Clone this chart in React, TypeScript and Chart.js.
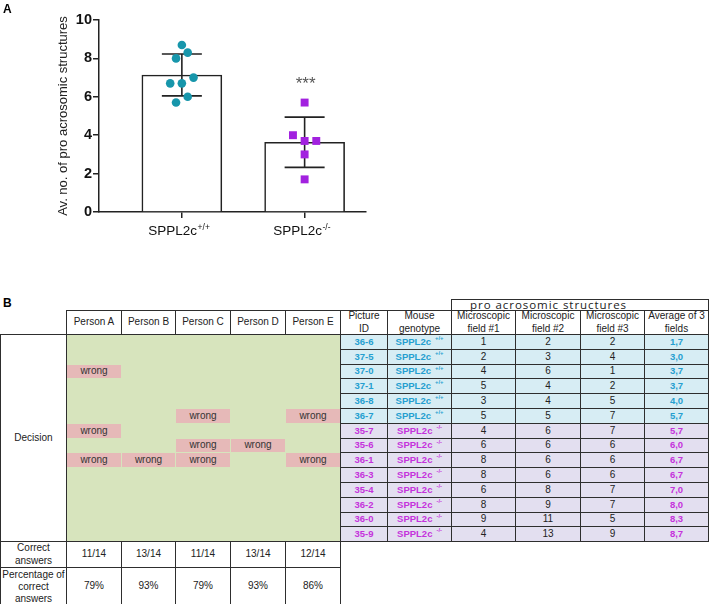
import React, { useEffect, useRef } from 'react';
import { Chart, registerables } from 'chart.js';

Chart.register(...registerables);

const FONT = "'Liberation Sans', Arial, Helvetica, sans-serif";

// ---------- Panel A data ----------
const groupNames = ['SPPL2c', 'SPPL2c'];
const groupSups = ['+/+', '-/-'];
const wtValues = [8.7, 8.3, 8.0, 7.0, 6.7, 6.7, 6.0, 5.7];
const koValues = [5.7, 4.0, 3.7, 3.7, 3.0, 1.7];
const wtJitter = [0, 0.5, -0.5, 1, -1, 0, 0.5, -0.5];
const koJitter = [0, -1, 0, 1, 0, 0];
const yTicks = [0, 2, 4, 6, 8, 10];
const yTitle = 'Av. no. of pro acrosomic structures';
const significance = '***';

// ---------- Panel B data ----------
const persons = ['Person A', 'Person B', 'Person C', 'Person D', 'Person E'];
const pictureIds = ['36-6', '37-5', '37-0', '37-1', '36-8', '36-7', '35-7', '35-6', '36-1', '36-3', '35-4', '36-2', '36-0', '35-9'];
const genotypes = ['+/+', '+/+', '+/+', '+/+', '+/+', '+/+', '-/-', '-/-', '-/-', '-/-', '-/-', '-/-', '-/-', '-/-'];
const field1 = [1, 2, 4, 5, 3, 5, 4, 6, 8, 8, 6, 8, 9, 4];
const field2 = [2, 3, 6, 4, 4, 5, 6, 6, 6, 6, 8, 9, 11, 13];
const field3 = [2, 4, 1, 2, 5, 7, 7, 6, 6, 6, 7, 7, 5, 9];
const averages = ['1,7', '3,0', '3,7', '3,7', '4,0', '5,7', '5,7', '6,0', '6,7', '6,7', '7,0', '8,0', '8,3', '8,7'];
const wrongRows = [[2, 6, 8], [8], [5, 7, 8], [7], [5, 8]];
const correctAnswers = ['11/14', '13/14', '11/14', '13/14', '12/14'];
const percentCorrect = ['79%', '93%', '79%', '93%', '86%'];
const rightHeaders = [['Picture', 'ID'], ['Mouse', 'genotype'], ['Microscopic', 'field #1'], ['Microscopic', 'field #2'], ['Microscopic', 'field #3'], ['Average of 3', 'fields']];
const groupHeader = 'pro acrosomic structures';

// ---------- styling ----------
const TEAL_DOT = '#1796ab';
const PURPLE_SQ = '#a221df';
const TEAL_TXT = '#259fd0';
const MAG_TXT = '#c532dc';
const BLUE_BG = '#d7edf4';
const LAV_BG = '#e3dff0';
const GREEN_BG = '#d7e4bd';
const PINK_BG = '#e6b9b8';
const BORDER = '#2e2e2e';

const mean = (a: number[]) => a.reduce((s, v) => s + v, 0) / a.length;
const sd = (a: number[]) => {
  const m = mean(a);
  return Math.sqrt(a.reduce((s, v) => s + (v - m) * (v - m), 0) / (a.length - 1));
};

const groupsValues = [wtValues, koValues];
const JITTER_UNIT = 0.095;

const errorBarPlugin = {
  id: 'errorBars',
  afterDatasetDraw(chart: any, args: any) {
    if (args.index !== 2) return;
    const { ctx, scales } = chart;
    const x = scales.x;
    const y = scales.y;
    ctx.save();
    ctx.strokeStyle = '#222';
    ctx.lineWidth = 1.6;
    groupsValues.forEach((vals, i) => {
      const m = mean(vals);
      const s = sd(vals);
      const cx = x.getPixelForValue(i + 1);
      const top = y.getPixelForValue(m + s);
      const bot = y.getPixelForValue(m - s);
      const half = 20;
      ctx.beginPath();
      ctx.moveTo(cx, top);
      ctx.lineTo(cx, bot);
      ctx.moveTo(cx - half, top);
      ctx.lineTo(cx + half, top);
      ctx.moveTo(cx - half, bot);
      ctx.lineTo(cx + half, bot);
      ctx.stroke();
    });
    ctx.restore();
  },
};

const labelPlugin = {
  id: 'groupLabels',
  afterDraw(chart: any) {
    const { ctx, scales } = chart;
    const x = scales.x;
    const y = scales.y;
    ctx.save();
    ctx.textAlign = 'left';
    ctx.textBaseline = 'alphabetic';
    ctx.fillStyle = '#111';
    groupNames.forEach((name, i) => {
      const cx = x.getPixelForValue(i + 1);
      ctx.font = `13.5px ${FONT}`;
      const w1 = ctx.measureText(name).width;
      ctx.font = `8.5px ${FONT}`;
      const w2 = ctx.measureText(groupSups[i]).width;
      const start = cx - (w1 + w2) / 2 - 3;
      const base = y.getPixelForValue(0) + 23;
      ctx.font = `13.5px ${FONT}`;
      ctx.fillText(name, start, base);
      ctx.font = `8.5px ${FONT}`;
      ctx.fillText(groupSups[i], start + w1 + 0.5, base - 5);
    });
    const sx = x.getPixelForValue(2);
    const sy = y.getPixelForValue(Math.max(...koValues)) - 13.5;
    ctx.font = `17px ${FONT}`;
    ctx.fillStyle = '#555';
    ctx.textAlign = 'center';
    ctx.fillText(significance, sx + 1, sy);
    ctx.restore();
  },
};

function ChartA() {
  const ref = useRef<HTMLCanvasElement | null>(null);
  useEffect(() => {
    if (!ref.current) return;
    const axisColor = '#222';
    const chart = new Chart(ref.current, {
      type: 'bar',
      data: {
        datasets: [
          {
            type: 'scatter',
            data: wtValues.map((v, i) => ({ x: 1 + wtJitter[i] * JITTER_UNIT, y: v })),
            pointStyle: 'circle',
            pointRadius: 4.3,
            pointBackgroundColor: TEAL_DOT,
            pointBorderWidth: 0,
            order: 0,
          } as any,
          {
            type: 'scatter',
            data: koValues.map((v, i) => ({ x: 2 + koJitter[i] * JITTER_UNIT, y: v })),
            pointStyle: 'rect',
            pointRadius: 5.6,
            pointBackgroundColor: PURPLE_SQ,
            pointBorderWidth: 0,
            order: 0,
          } as any,
          {
            type: 'bar',
            data: groupsValues.map((vals, i) => ({ x: i + 1, y: mean(vals) })),
            backgroundColor: '#ffffff',
            borderColor: '#222',
            borderWidth: 1.6,
            barThickness: 80,
            order: 2,
          } as any,
        ],
      },
      options: {
        responsive: false,
        animation: false,
        events: [],
        layout: { padding: { top: 20, right: 14, left: 0, bottom: 0 } },
        plugins: { legend: { display: false }, tooltip: { enabled: false } },
        scales: {
          x: {
            type: 'linear',
            min: 0.325,
            max: 2.5,
            offset: false,
            afterBuildTicks: (s: any) => {
              s.ticks = groupNames.map((_, i) => ({ value: i + 1 }));
            },
            ticks: { callback: () => '', padding: 0 },
            grid: { drawOnChartArea: false, offset: false, tickLength: 6, color: axisColor, lineWidth: 1.5 },
            border: { color: axisColor, width: 1.5 },
            afterFit: (s: any) => {
              s.height = 48;
            },
          } as any,
          y: {
            min: 0,
            max: 10,
            afterBuildTicks: (s: any) => {
              s.ticks = yTicks.map((v) => ({ value: v }));
            },
            ticks: { font: { family: FONT, size: 14.5, weight: 'bold' }, color: '#111', padding: 1 },
            grid: { drawOnChartArea: false, tickLength: 6, color: axisColor, lineWidth: 1.5 },
            border: { color: axisColor, width: 1.5 },
            title: { display: true, text: yTitle, font: { family: FONT, size: 13 }, color: '#222', padding: { top: 56, bottom: 0 } },
            afterFit: (s: any) => {
              s.width = 99;
            },
          } as any,
        },
      },
      plugins: [errorBarPlugin, labelPlugin],
    });
    return () => chart.destroy();
  }, []);
  return <canvas ref={ref} width={380} height={260} style={{ position: 'absolute', left: 0, top: 0 }} />;
}

// ---------- table layout ----------
const leftEdges = [0, 66, 121, 175, 230, 285, 340];
const rightEdges = [340, 387, 451, 515, 580, 644, 708];
const groupHeaderTop = 299;
const headerTop = 310;
const dataTop = 334;
const rowH = 14.8;
const rowTop = (i: number) => dataTop + Math.round(i * rowH);
const dataBottom = rowTop(pictureIds.length);
const correctBottom = 567;
const pctBottom = 605;

type CellProps = {
  x0: number;
  y0: number;
  x1: number;
  y1: number;
  bg?: string;
  noBorder?: boolean;
  style?: React.CSSProperties;
  children?: React.ReactNode;
};

function Cell({ x0, y0, x1, y1, bg, noBorder, style, children }: CellProps) {
  return (
    <div
      style={{
        position: 'absolute',
        left: x0,
        top: y0,
        width: x1 - x0 + 1,
        height: y1 - y0 + 1,
        boxSizing: 'border-box',
        border: noBorder ? 'none' : `1px solid ${BORDER}`,
        background: bg,
        display: 'flex',
        flexDirection: 'column',
        alignItems: 'center',
        justifyContent: 'center',
        textAlign: 'center',
        fontFamily: FONT,
        fontSize: 10,
        lineHeight: '12.4px',
        color: '#222',
        whiteSpace: 'nowrap',
        ...style,
      }}
    >
      {children}
    </div>
  );
}

function TableB() {
  const cells: React.ReactNode[] = [];
  // person headers
  persons.forEach((p, i) => {
    cells.push(
      <Cell key={`ph${i}`} x0={leftEdges[i + 1]} y0={headerTop} x1={leftEdges[i + 2]} y1={dataTop}>
        {p}
      </Cell>
    );
  });
  // decision label
  cells.push(
    <Cell key="dec" x0={leftEdges[0]} y0={dataTop} x1={leftEdges[1]} y1={dataBottom}>
      Decision
    </Cell>
  );
  // green area
  cells.push(<Cell key="green" x0={leftEdges[1]} y0={dataTop} x1={leftEdges[6]} y1={dataBottom} bg={GREEN_BG} />);
  wrongRows.forEach((rows, p) => {
    rows.forEach((r) => {
      cells.push(
        <Cell
          key={`w${p}-${r}`}
          noBorder
          x0={leftEdges[p + 1] + 1}
          y0={rowTop(r) + 1}
          x1={leftEdges[p + 2] - 1}
          y1={rowTop(r + 1) - 1}
          bg={PINK_BG}
          style={{ color: '#333' }}
        >
          wrong
        </Cell>
      );
    });
  });
  // correct answers row
  cells.push(
    <Cell key="ca" x0={leftEdges[0]} y0={dataBottom} x1={leftEdges[1]} y1={correctBottom}>
      <span>Correct</span>
      <span>answers</span>
    </Cell>
  );
  correctAnswers.forEach((c, i) => {
    cells.push(
      <Cell key={`c${i}`} x0={leftEdges[i + 1]} y0={dataBottom} x1={leftEdges[i + 2]} y1={correctBottom}>
        {c}
      </Cell>
    );
  });
  cells.push(
    <Cell key="pc" x0={leftEdges[0]} y0={correctBottom} x1={leftEdges[1]} y1={pctBottom} style={{ lineHeight: '12px' }}>
      <span>Percentage of</span>
      <span>correct</span>
      <span>answers</span>
    </Cell>
  );
  percentCorrect.forEach((c, i) => {
    cells.push(
      <Cell key={`p${i}`} x0={leftEdges[i + 1]} y0={correctBottom} x1={leftEdges[i + 2]} y1={pctBottom}>
        {c}
      </Cell>
    );
  });
  // right table group header
  cells.push(
    <Cell
      key="gh"
      x0={rightEdges[2]}
      y0={groupHeaderTop}
      x1={rightEdges[6]}
      y1={headerTop}
      style={{ alignItems: 'flex-start', paddingLeft: 18, fontFamily: "'Open Sans', sans-serif", fontSize: 11.5, letterSpacing: '0.95px', lineHeight: '10px' }}
    >
      {groupHeader}
    </Cell>
  );
  rightHeaders.forEach((lines, i) => {
    cells.push(
      <Cell key={`rh${i}`} x0={rightEdges[i]} y0={headerTop} x1={rightEdges[i + 1]} y1={dataTop} style={{ lineHeight: '12.5px' }}>
        {lines.map((l, k) => (
          <span key={k}>{l}</span>
        ))}
      </Cell>
    );
  });
  pictureIds.forEach((id, r) => {
    const isWt = genotypes[r] === '+/+';
    const bg = isWt ? BLUE_BG : LAV_BG;
    const col = isWt ? TEAL_TXT : MAG_TXT;
    const y0 = rowTop(r);
    const y1 = rowTop(r + 1);
    const bold: React.CSSProperties = { fontWeight: 'bold', fontSize: 9.5, color: col };
    cells.push(
      <Cell key={`id${r}`} x0={rightEdges[0]} y0={y0} x1={rightEdges[1]} y1={y1} bg={bg} style={bold}>
        {id}
      </Cell>
    );
    cells.push(
      <Cell key={`g${r}`} x0={rightEdges[1]} y0={y0} x1={rightEdges[2]} y1={y1} bg={bg} style={{ ...bold, flexDirection: 'row' }}>
        <span>SPPL2c</span>
        <span style={{ fontSize: 5.8, marginLeft: 4, position: 'relative', top: -3.5 }}>{genotypes[r]}</span>
      </Cell>
    );
    [field1[r], field2[r], field3[r]].forEach((v, k) => {
      cells.push(
        <Cell key={`f${r}-${k}`} x0={rightEdges[2 + k]} y0={y0} x1={rightEdges[3 + k]} y1={y1} bg={bg}>
          {v}
        </Cell>
      );
    });
    cells.push(
      <Cell key={`a${r}`} x0={rightEdges[5]} y0={y0} x1={rightEdges[6]} y1={y1} bg={bg} style={bold}>
        {averages[r]}
      </Cell>
    );
  });
  return <>{cells}</>;
}

export default function App() {
  return (
    <div style={{ position: 'absolute', left: 0, top: 0, width: 709, height: 604, overflow: 'hidden', background: '#fff' }}>
      <ChartA />
      <div style={{ position: 'absolute', left: 3, top: 3.4, fontFamily: FONT, fontWeight: 'bold', fontSize: 12, lineHeight: '12px' }}>A</div>
      <div style={{ position: 'absolute', left: 3, top: 296.5, fontFamily: FONT, fontWeight: 'bold', fontSize: 12, lineHeight: '12px' }}>B</div>
      <TableB />
    </div>
  );
}
